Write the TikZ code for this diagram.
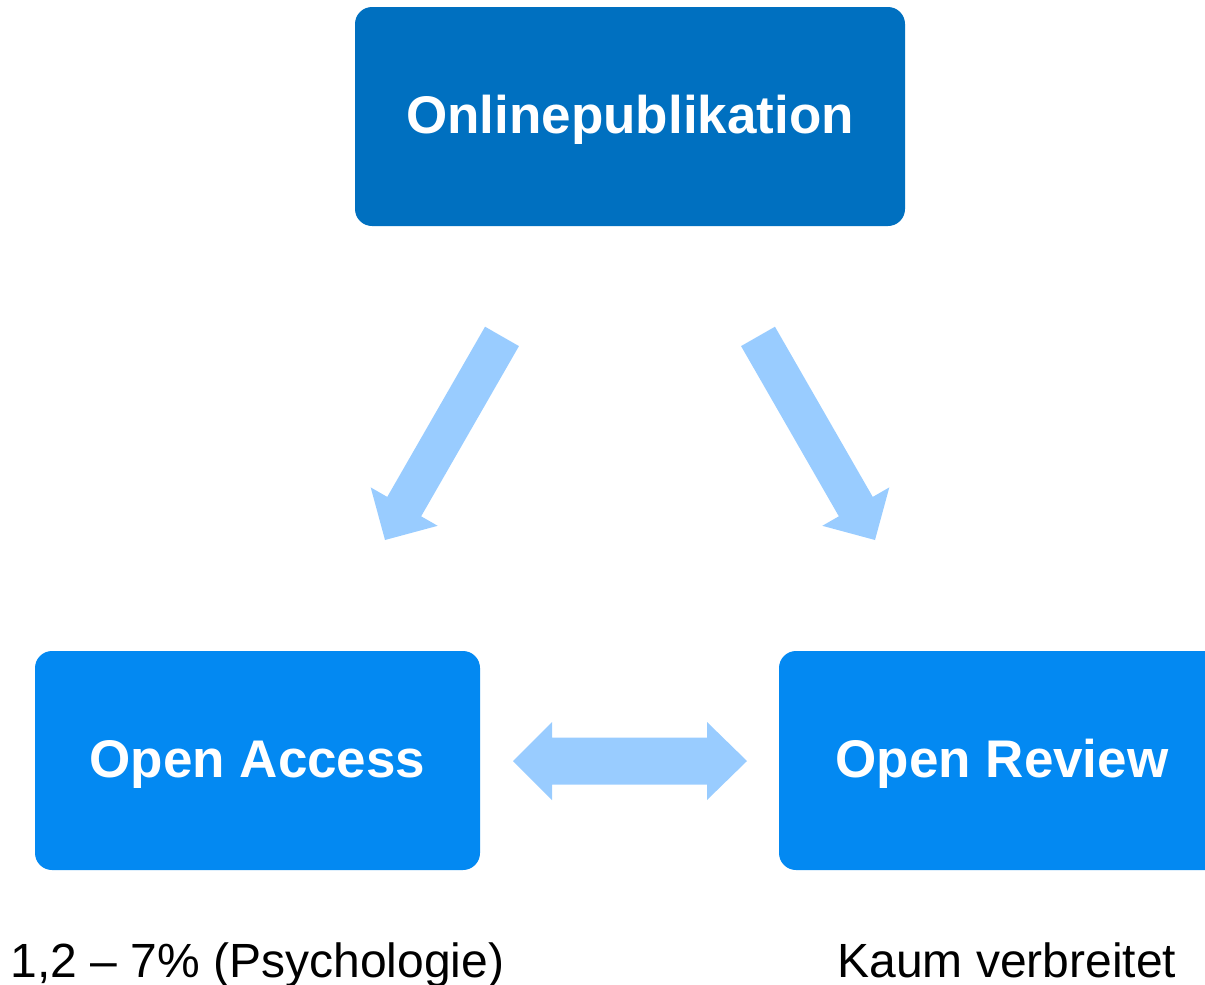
\documentclass[tikz,border=0pt]{standalone}
\usepackage{fontspec}
\setmainfont{Liberation Sans}
\definecolor{topblue}{RGB}{0,112,192}
\definecolor{boxblue}{RGB}{3,137,242}
\definecolor{arrowblue}{RGB}{153,204,255}
\begin{document}
\begin{tikzpicture}[x=1pt,y=-1pt,
  box/.style={rectangle, rounded corners=17pt, inner sep=0pt, draw=none},
  boxtext/.style={anchor=base, inner sep=0pt, text=white, font=\bfseries\fontsize{53}{60}\selectfont},
  note/.style={anchor=base, inner sep=0pt, text=black, font=\fontsize{48}{56}\selectfont},
  blockarrow/.style={fill=arrowblue, draw=none}]
\useasboundingbox (0,0) rectangle (1205,985);
\clip (0,0) rectangle (1205,985);
% boxes
\node[box, fill=topblue, minimum width=550pt, minimum height=219pt] (online) at (630,116.5) {};
\node[box, fill=boxblue, minimum width=445pt, minimum height=219pt] (access) at (257.5,760.5) {};
\node[box, fill=boxblue, minimum width=446pt, minimum height=219pt] (review) at (1002,760.5) {};
% box labels
\node[boxtext] (onlineT) at (630,133) {Onlinepublikation};
\node[boxtext] (accessT) at (257.5,777) {Open Access};
\node[boxtext] (reviewT) at (1002,777) {Open Review};
% notes
\node[note] (accessN) at (257.5,977) {1,2 – 7\% (Psychologie)};
\node[note] (reviewN) at (1007,977) {Kaum verbreitet};
% block arrows
\fill[blockarrow] (485.05,326.7) -- (518.95,346.1) -- (421.15,516.3) -- (437.7,525.8)
  -- (385,540) -- (370.7,487.4) -- (387.25,496.9) -- cycle;
\fill[blockarrow] (774.95,326.7) -- (741.05,346.1) -- (838.85,516.3) -- (822.3,525.8)
  -- (875,540) -- (889.3,487.4) -- (872.75,496.9) -- cycle;
\fill[blockarrow] (513,761) -- (552,722) -- (552,737.5) -- (707,737.5) -- (707,722)
  -- (747,761) -- (707,800) -- (707,784.5) -- (552,784.5) -- (552,800) -- cycle;
\end{tikzpicture}
\end{document}
